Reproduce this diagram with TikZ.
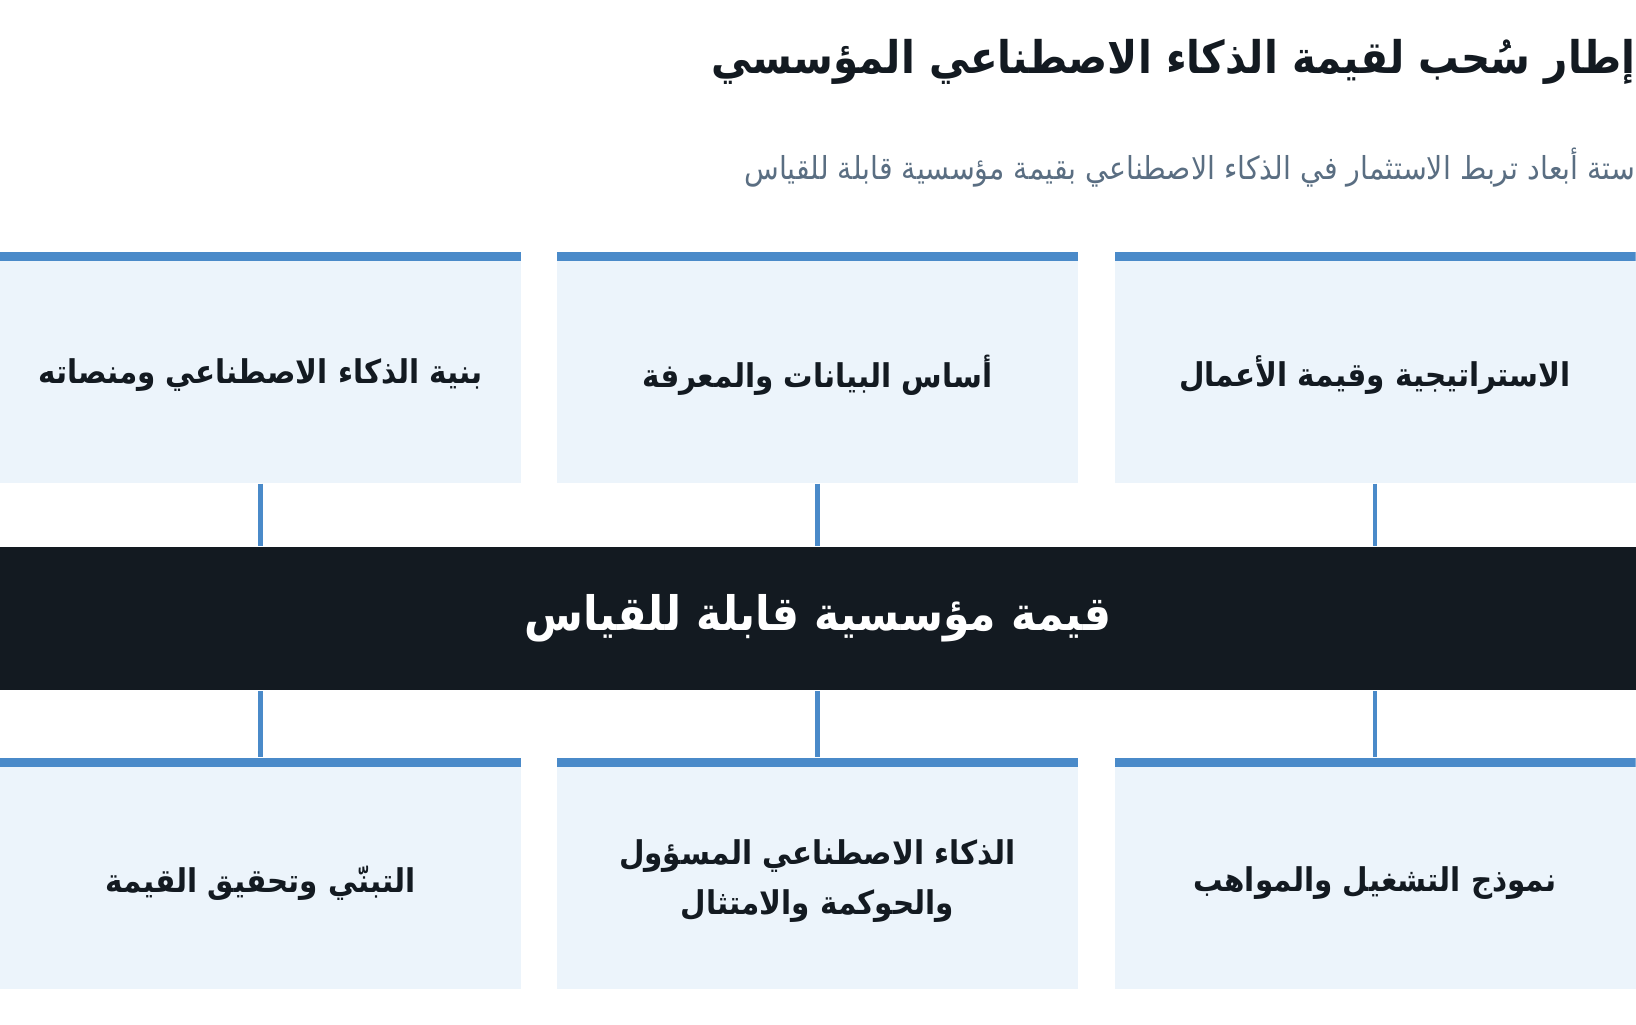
\documentclass[tikz,border=0pt]{standalone}
\usepackage{fontspec}
\usepackage{tikz}
\TeXXeTstate=1
\newfontfamily\arabicfont[Script=Arabic, FakeStretch=0.9]{DejaVu Sans}
\definecolor{barblue}{HTML}{4A8AC9}
\definecolor{paleblue}{HTML}{ECF4FB}
\definecolor{inkdark}{HTML}{131A21}
\definecolor{slategrey}{HTML}{5A6E82}
\newcommand{\ar}[1]{\beginR #1\endR}

\begin{document}
\begin{tikzpicture}[
    pillar/.style={fill=paleblue, minimum width=5.21cm, minimum height=2.31cm,
      inner sep=0pt,
      path picture={\fill[barblue] (path picture bounding box.north west)
        rectangle ([yshift=-0.09cm]path picture bounding box.north east);}},
    tag/.style={inner sep=0pt, align=center, text=inkdark,
      font=\arabicfont\bfseries\fontsize{9.3}{14.2}\selectfont},
    link/.style={draw=barblue, line width=1.2pt}
  ]
    \useasboundingbox (0, 0) rectangle (16.36, -10.24);
    \node (title) [anchor=base east, inner sep=0pt, text=inkdark,
      font=\arabicfont\bfseries\fontsize{12.8}{16}\selectfont] at (16.36, -0.73)
      {\ar{إطار سُحب لقيمة الذكاء الاصطناعي المؤسسي}};
    \node (subtitle) [anchor=base east, inner sep=0pt, text=slategrey,
      font=\arabicfont\fontsize{9}{11}\selectfont] at (16.36, -1.79)
      {\ar{ستة أبعاد تربط الاستثمار في الذكاء الاصطناعي بقيمة مؤسسية قابلة للقياس}};
    % top row
    \node (strategy) [pillar] at (13.75, -3.675) {};
    \node (data) [pillar] at (8.175, -3.675) {};
    \node (platform) [pillar] at (2.605, -3.675) {};
    \node (strategytag) [tag] at ([yshift=-0.08cm]strategy.center) {\ar{الاستراتيجية وقيمة الأعمال}};
    \node (datatag) [tag] at ([yshift=-0.08cm]data.center) {\ar{أساس البيانات والمعرفة}};
    \node (platformtag) [tag] at ([yshift=-0.08cm]platform.center) {\ar{بنية الذكاء الاصطناعي ومنصاته}};
    % centre bar
    \node (core) [fill=inkdark, text=white, minimum width=16.36cm, minimum height=1.43cm,
      inner sep=0pt, font=\arabicfont\bfseries\fontsize{13.5}{16}\selectfont]
      at (8.18, -6.185) {\ar{قيمة مؤسسية قابلة للقياس}};
    % bottom row
    \node (talent) [pillar] at (13.75, -8.73) {};
    \node (governance) [pillar] at (8.175, -8.73) {};
    \node (adoption) [pillar] at (2.605, -8.73) {};
    \node (talenttag) [tag] at ([yshift=-0.1cm]talent.center) {\ar{نموذج التشغيل والمواهب}};
    \node (governancetag) [tag] at ([yshift=-0.08cm]governance.center)
      {\ar{الذكاء الاصطناعي المسؤول}\\\ar{والحوكمة والامتثال}};
    \node (adoptiontag) [tag] at ([yshift=-0.1cm]adoption.center) {\ar{التبنّي وتحقيق القيمة}};
    \draw [link] (strategy) to (strategy |- core.north);
    \draw [link] (data) to (data |- core.north);
    \draw [link] (platform) to (platform |- core.north);
    \draw [link] (talent) to (talent |- core.south);
    \draw [link] (governance) to (governance |- core.south);
    \draw [link] (adoption) to (adoption |- core.south);
  \end{tikzpicture}
\end{document}
